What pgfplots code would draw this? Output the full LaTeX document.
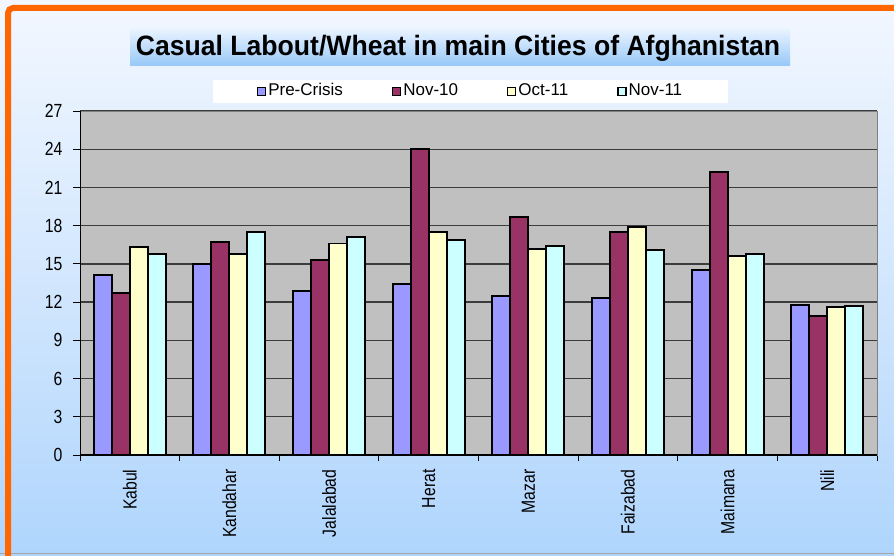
\documentclass[border=0pt]{standalone}
\usepackage{pgfplots}
\pgfplotsset{compat=1.18}
\usepackage{fontspec}
\setmainfont{Liberation Sans}
\newfontfamily\condfont{Liberation Sans}[FakeStretch=0.83]
\newfontfamily\titlefont{Liberation Sans}[FakeStretch=0.95]
\definecolor{orng}{RGB}{255,102,0}
\definecolor{bgA}{RGB}{158,205,255}
\definecolor{bgB}{RGB}{165,208,253}
\definecolor{bgC}{RGB}{205,228,253}
\definecolor{bgD}{RGB}{240,246,255}
\definecolor{plotgray}{RGB}{192,192,192}
\definecolor{gridgray}{RGB}{60,60,60}
\definecolor{axisgray}{RGB}{128,128,128}
\definecolor{cPre}{RGB}{153,153,255}
\definecolor{cNovA}{RGB}{153,51,102}
\definecolor{cOct}{RGB}{255,255,204}
\definecolor{cNovB}{RGB}{204,255,255}
\definecolor{titleTop}{RGB}{235,244,255}
\definecolor{titleBot}{RGB}{150,200,248}
\pgfdeclareverticalshading{bgshade}{100bp}{color(0bp)=(bgA); color(18bp)=(bgB); color(46bp)=(bgC); color(73bp)=(bgD); color(88bp)=(white); color(100bp)=(white)}
\pgfplotsset{sqlegend/.style={legend image code/.code={\draw[##1, line width=1.4pt] (0pt,-4pt) rectangle (8pt,4pt);}}}
\begin{document}
\begin{tikzpicture}[x=1pt,y=1pt]
\useasboundingbox (0,0) rectangle (894,555);
\shade[shading=bgshade] (0,0) rectangle (894,555);
\draw[gray!70, line width=1pt] (0,1.5) -- (894,1.5);
\draw[orng, line width=6pt, rounded corners=5pt] (8,-10) -- (8,547) -- (910,547);
% title box
\shade[top color=titleTop, bottom color=titleBot] (130,489) rectangle (790,527);
\node[font=\fontsize{28}{28}\titlefont\bfseries] at (458,507) {Casual Labout/Wheat in main Cities of Afghanistan};
\begin{axis}[
  at={(80pt,100pt)}, anchor=south west,
  scale only axis, width=797pt, height=344pt,
  ymin=0, ymax=27, ytick={0,3,...,27},
  xmin=0.5, xmax=8.5,
  xtick={1,...,8},
  xticklabels={Kabul,Kandahar,Jalalabad,Herat,Mazar,Faizabad,Maimana,Nili},
  minor xtick={0.5,1.5,...,8.5},
  major x tick style={draw=none},
  minor x tick style={draw=black, line width=0.8pt},
  y tick style={draw=black, line width=0.8pt},
  tick align=outside, tick pos=left,
  major tick length=7pt, minor tick length=6pt,
  x tick label style={rotate=90, anchor=east, font=\fontsize{19}{19}\condfont},
  y tick label style={font=\fontsize{19}{19}\condfont, xshift=-7pt},
  /pgf/number format/assume math mode=true,
  xticklabel shift=4pt,
  ybar=0pt, bar width=18pt,
  axis background/.style={fill=plotgray},
  ymajorgrids, grid style={draw=gridgray, line width=1.4pt},
  axis line style={draw=axisgray, line width=1pt},
  legend columns=4,
  legend style={at={(0.49,1)}, anchor=south, yshift=8pt, draw=none, fill=white,
    font=\fontsize{17}{17}\selectfont, inner xsep=44pt, inner ysep=2pt,
    nodes={text height=12pt, text depth=3pt},
    /tikz/every even column/.append style={column sep=47pt}},
  every axis plot/.append style={draw=black, line width=1.9pt},
]
\addplot[fill=cPre, sqlegend] coordinates {(1,14.1) (2,15.0) (3,12.9) (4,13.4) (5,12.5) (6,12.3) (7,14.5) (8,11.8)};
\addplot[fill=cNovA, sqlegend] coordinates {(1,12.7) (2,16.7) (3,15.3) (4,24.0) (5,18.7) (6,17.5) (7,22.2) (8,10.9)};
\addplot[fill=cOct, sqlegend] coordinates {(1,16.3) (2,15.8) (3,16.6) (4,17.5) (5,16.2) (6,17.9) (7,15.6) (8,11.6)};
\addplot[fill=cNovB, sqlegend] coordinates {(1,15.8) (2,17.5) (3,17.1) (4,16.9) (5,16.4) (6,16.1) (7,15.8) (8,11.7)};
\legend{Pre-Crisis,Nov-10,Oct-11,Nov-11}
\draw[black, line width=1.2pt] (axis cs:0.5,27) -- (axis cs:0.5,0) -- (axis cs:8.5,0);
\end{axis}
\end{tikzpicture}
\end{document}
